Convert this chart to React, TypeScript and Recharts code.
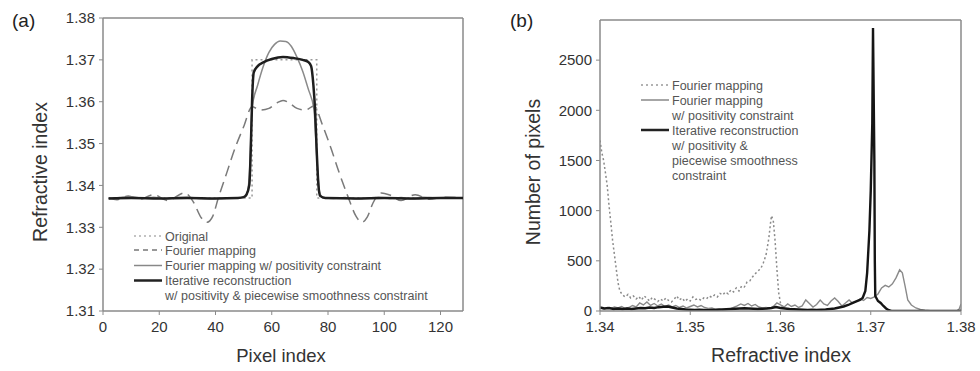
import { LineChart, Line, XAxis, YAxis, ReferenceLine } from "recharts";

// (a) refractive index profile along the pixel line
const pixelTicks = [0, 20, 40, 60, 80, 100, 120];
const indexTicks = [1.31, 1.32, 1.33, 1.34, 1.35, 1.36, 1.37, 1.38];

const originalProfile: [number, number][] = [
  [2, 1.337], [53, 1.337], [53, 1.37], [76, 1.37], [76, 1.337], [128, 1.337],
];

const fourierProfile: [number, number][] = [
  [2, 1.3370], [5, 1.3366], [9, 1.3375], [13, 1.3367], [18, 1.3378], [23, 1.3364],
  [29, 1.3382], [32, 1.3362], [35, 1.3322], [37, 1.3312], [39, 1.3326], [41, 1.3370],
  [44, 1.3430], [47, 1.3490], [50, 1.3540], [53, 1.3588], [56, 1.3580], [59, 1.3584],
  [62, 1.3598], [64, 1.3603], [66, 1.3598], [69, 1.3584], [72, 1.3580], [75, 1.3590],
  [78, 1.3545], [81, 1.3490], [84, 1.3430], [87, 1.3375], [90, 1.3326], [92, 1.3312],
  [94, 1.3325], [96, 1.3358], [99, 1.3382], [102, 1.3377], [106, 1.3364], [111, 1.3378],
  [116, 1.3367], [121, 1.3372], [128, 1.3370],
];

const positivityProfile: [number, number][] = [
  [2, 1.3368], [6, 1.3371], [10, 1.3373], [14, 1.3369], [18, 1.3372], [22, 1.3368],
  [26, 1.3371], [30, 1.3372], [34, 1.3369], [38, 1.3368], [42, 1.3369], [46, 1.3370],
  [50, 1.3371], [51, 1.3376], [52, 1.3420], [53, 1.3585], [55, 1.3640], [57, 1.3685],
  [59, 1.3718], [61, 1.3737], [63, 1.3745], [65, 1.3744], [67, 1.3732], [69, 1.3706],
  [71, 1.3673], [73, 1.3630], [75, 1.3582], [76, 1.3470], [77, 1.3385], [78, 1.3372],
  [82, 1.3369], [86, 1.3371], [90, 1.3368], [94, 1.3370], [98, 1.3372], [102, 1.3369],
  [106, 1.3371], [110, 1.3368], [114, 1.3372], [118, 1.3370], [122, 1.3371], [128, 1.3370],
];

const iterativeProfile: [number, number][] = [
  [2, 1.3369], [10, 1.3370], [20, 1.3369], [30, 1.3370], [40, 1.3369], [48, 1.3370],
  [50, 1.3372], [51, 1.3378], [52, 1.3400], [52.6, 1.3500], [53, 1.3600], [53.6, 1.3670],
  [55, 1.3685], [57, 1.3694], [60, 1.3702], [64, 1.3707], [68, 1.3704], [71, 1.3700],
  [73, 1.3695], [74, 1.3685], [74.8, 1.3640], [75.4, 1.3580], [76, 1.3480], [76.6, 1.3400],
  [77.2, 1.3375], [79, 1.3370], [90, 1.3369], [100, 1.3370], [110, 1.3369], [120, 1.3370],
  [128, 1.3370],
];

// (b) histogram of refractive index values
const histXTicks = [1.34, 1.35, 1.36, 1.37, 1.38];
const histYTicks = [0, 500, 1000, 1500, 2000, 2500];

const fourierHist: [number, number][] = [
  [1.3400, 1700], [1.3402, 1580], [1.3404, 1500], [1.3406, 1380], [1.3408, 1250],
  [1.3410, 1050], [1.3412, 880], [1.3414, 700], [1.3416, 560], [1.3418, 420],
  [1.3420, 280], [1.3422, 200], [1.3425, 160], [1.3428, 140], [1.3431, 165],
  [1.3434, 130], [1.3437, 150], [1.3440, 120], [1.3443, 145], [1.3446, 110],
  [1.3449, 150], [1.3452, 125], [1.3455, 100], [1.3458, 135], [1.3461, 115],
  [1.3464, 95], [1.3467, 120], [1.3470, 100], [1.3473, 130], [1.3476, 105],
  [1.3479, 90], [1.3482, 115], [1.3485, 150], [1.3488, 110], [1.3491, 130],
  [1.3494, 95], [1.3497, 120], [1.3500, 100], [1.3503, 140], [1.3506, 115],
  [1.3509, 125], [1.3512, 105], [1.3515, 130], [1.3518, 120], [1.3521, 150],
  [1.3524, 135], [1.3527, 160], [1.3530, 140], [1.3533, 175], [1.3536, 160],
  [1.3539, 190], [1.3542, 170], [1.3545, 210], [1.3548, 190], [1.3551, 230],
  [1.3554, 200], [1.3557, 250], [1.3560, 240], [1.3563, 290], [1.3566, 300],
  [1.3569, 340], [1.3572, 370], [1.3575, 400], [1.3578, 420], [1.3581, 480],
  [1.3584, 560], [1.3587, 720], [1.3589, 880], [1.3590, 950], [1.3592, 900],
  [1.3594, 700], [1.3596, 420], [1.3598, 180], [1.3600, 80], [1.3602, 40],
];

const positivityHist: [number, number][] = [
  [1.3400, 30], [1.3404, 20], [1.3408, 35], [1.3412, 25], [1.3416, 40], [1.3420, 30],
  [1.3424, 45], [1.3428, 25], [1.3432, 35], [1.3436, 55], [1.3440, 40], [1.3444, 80],
  [1.3448, 60], [1.3452, 90], [1.3456, 55], [1.3460, 75], [1.3464, 50], [1.3468, 70],
  [1.3472, 45], [1.3476, 60], [1.3480, 40], [1.3484, 55], [1.3488, 35], [1.3492, 50],
  [1.3496, 30], [1.3500, 45], [1.3504, 60], [1.3508, 40], [1.3512, 55], [1.3516, 35],
  [1.3520, 25], [1.3524, 30], [1.3528, 15], [1.3532, 20], [1.3536, 10], [1.3540, 15],
  [1.3544, 20], [1.3548, 35], [1.3552, 50], [1.3556, 70], [1.3560, 55], [1.3564, 75],
  [1.3568, 50], [1.3572, 65], [1.3576, 40], [1.3580, 30], [1.3584, 35], [1.3588, 25],
  [1.3592, 45], [1.3596, 80], [1.3600, 60], [1.3604, 40], [1.3608, 70], [1.3612, 45],
  [1.3616, 60], [1.3620, 35], [1.3624, 50], [1.3628, 110], [1.3632, 75], [1.3636, 40],
  [1.3640, 65], [1.3644, 110], [1.3648, 70], [1.3652, 55], [1.3656, 100], [1.3660, 130],
  [1.3664, 95], [1.3668, 50], [1.3672, 80], [1.3676, 110], [1.3680, 75], [1.3684, 95],
  [1.3688, 120], [1.3692, 105], [1.3696, 135], [1.3700, 125], [1.3704, 140], [1.3708, 170],
  [1.3712, 230], [1.3716, 255], [1.3720, 240], [1.3724, 270], [1.3728, 330], [1.3732, 410],
  [1.3735, 380], [1.3738, 250], [1.3741, 110], [1.3745, 60], [1.3750, 30], [1.3755, 15],
  [1.3760, 8], [1.3766, 3], [1.3770, 0], [1.3795, 0], [1.3798, 20], [1.3800, 70],
];

const iterativeHist: [number, number][] = [
  [1.3400, 35], [1.3405, 25], [1.3410, 30], [1.3415, 20], [1.3420, 25], [1.3425, 20],
  [1.3430, 25], [1.3435, 20], [1.3440, 25], [1.3445, 30], [1.3450, 28], [1.3455, 35],
  [1.3460, 30], [1.3465, 38], [1.3470, 42], [1.3475, 45], [1.3480, 35], [1.3485, 25],
  [1.3490, 20], [1.3495, 15], [1.3500, 12], [1.3505, 10], [1.3510, 12], [1.3515, 10],
  [1.3520, 8], [1.3525, 10], [1.3530, 12], [1.3535, 15], [1.3540, 18], [1.3545, 20],
  [1.3550, 22], [1.3555, 25], [1.3560, 28], [1.3565, 25], [1.3570, 22], [1.3575, 20],
  [1.3580, 22], [1.3585, 25], [1.3590, 30], [1.3595, 40], [1.3600, 30], [1.3605, 25],
  [1.3610, 20], [1.3615, 18], [1.3620, 15], [1.3625, 12], [1.3630, 10], [1.3635, 12],
  [1.3640, 10], [1.3645, 12], [1.3650, 15], [1.3655, 20], [1.3660, 25], [1.3665, 35],
  [1.3670, 45], [1.3675, 60], [1.3680, 80], [1.3684, 95], [1.3688, 110], [1.3691, 130],
  [1.3694, 200], [1.3696, 380], [1.36985, 800], [1.3700, 1200], [1.37017, 1870],
  [1.37025, 2820], [1.3704, 1500], [1.37045, 500], [1.3705, 150], [1.3708, 100],
  [1.3711, 80], [1.3714, 50], [1.3717, 25], [1.3720, 8], [1.3723, 0], [1.3800, 0],
];

const pts = (arr: [number, number][]) => arr.map(([x, y]) => ({ x, y }));

const FONT = "'Liberation Sans', Arial, sans-serif";
const FRAME = "#8a8a8a";
const tickStyle = { fontSize: 15, fill: "#333", fontFamily: FONT };

function LegendRow({ x, y, dash, color, width, text }: any) {
  return (
    <g>
      {color && (
        <line x1={x} x2={x + 28} y1={y} y2={y} stroke={color} strokeWidth={width} strokeDasharray={dash} />
      )}
      <text x={x + 31} y={y + 4.5} fontSize={12.5} fill="#555" fontFamily={FONT}>{text}</text>
    </g>
  );
}

export default function App() {
  return (
    <div style={{ position: "absolute", left: 0, top: 0, width: 980, height: 371, background: "#fff" }}>
      <div style={{ position: "absolute", left: 0, top: 0 }}>
        <LineChart width={490} height={371} margin={{ top: 18, right: 27, left: 0, bottom: 0 }}>
          <XAxis dataKey="x" type="number" domain={[0, 128]} ticks={pixelTicks} allowDataOverflow
            height={60} tick={tickStyle} tickSize={4} tickMargin={6}
            axisLine={{ stroke: FRAME, strokeWidth: 1.5 }} tickLine={{ stroke: FRAME }} />
          <YAxis type="number" domain={[1.31, 1.38]} ticks={indexTicks} allowDataOverflow
            width={103} tick={tickStyle} tickSize={4} tickMargin={4}
            tickFormatter={(v: number) => v.toFixed(2)}
            axisLine={{ stroke: FRAME, strokeWidth: 1.5 }} tickLine={{ stroke: FRAME }} />
          <ReferenceLine y={1.38} stroke={FRAME} strokeWidth={1.5} />
          <ReferenceLine x={128} stroke={FRAME} strokeWidth={1.5} />
          <Line data={pts(originalProfile)} dataKey="y" type="linear" stroke="#9a9a9a" strokeWidth={1.5}
            strokeDasharray="2 3" dot={false} isAnimationActive={false} />
          <Line data={pts(fourierProfile)} dataKey="y" type="monotone" stroke="#7a7a7a" strokeWidth={1.5}
            strokeDasharray="11 6" dot={false} isAnimationActive={false} />
          <Line data={pts(positivityProfile)} dataKey="y" type="monotone" stroke="#8a8a8a" strokeWidth={1.5}
            dot={false} isAnimationActive={false} />
          <Line data={pts(iterativeProfile)} dataKey="y" type="monotone" stroke="#1e1e1e" strokeWidth={2.5}
            dot={false} isAnimationActive={false} />
        </LineChart>
      </div>

      <div style={{ position: "absolute", left: 490, top: 0 }}>
        <LineChart width={490} height={371} margin={{ top: 20, right: 19, left: 0, bottom: 0 }}>
          <XAxis dataKey="x" type="number" domain={[1.34, 1.38]} ticks={histXTicks} allowDataOverflow
            height={60} tick={tickStyle} tickSize={4} tickMargin={6}
            tickFormatter={(v: number) => v.toFixed(2)}
            axisLine={{ stroke: FRAME, strokeWidth: 1.5 }} tickLine={{ stroke: FRAME }} />
          <YAxis type="number" domain={[0, 2900]} ticks={histYTicks} allowDataOverflow
            width={110} tick={tickStyle} tickSize={4} tickMargin={4}
            axisLine={{ stroke: FRAME, strokeWidth: 1.5 }} tickLine={{ stroke: FRAME }} />
          <ReferenceLine y={2900} stroke={FRAME} strokeWidth={1.5} />
          <ReferenceLine x={1.38} stroke={FRAME} strokeWidth={1.5} />
          <Line data={pts(fourierHist)} dataKey="y" type="linear" stroke="#8a8a8a" strokeWidth={1.5}
            strokeDasharray="2 2.5" dot={false} isAnimationActive={false} />
          <Line data={pts(positivityHist)} dataKey="y" type="linear" stroke="#8a8a8a" strokeWidth={1.4}
            dot={false} isAnimationActive={false} />
          <Line data={pts(iterativeHist)} dataKey="y" type="linear" stroke="#151515" strokeWidth={2.4}
            dot={false} isAnimationActive={false} />
        </LineChart>
      </div>

      <svg width={980} height={371} style={{ position: "absolute", left: 0, top: 0, pointerEvents: "none" }}>
        <text x={12} y={27} fontSize={19} fill="#222" fontFamily={FONT}>(a)</text>
        <text x={510} y={27} fontSize={19} fill="#222" fontFamily={FONT}>(b)</text>
        <text transform="translate(47,172) rotate(-90)" textAnchor="middle" fontSize={19.5} fill="#333" fontFamily={FONT}>Refractive index</text>
        <text x={281} y={362} textAnchor="middle" fontSize={18.5} fill="#333" fontFamily={FONT}>Pixel index</text>
        <text transform="translate(540,172) rotate(-90)" textAnchor="middle" fontSize={19.5} fill="#333" fontFamily={FONT}>Number of pixels</text>
        <text x={781} y={362} textAnchor="middle" fontSize={19.5} fill="#333" fontFamily={FONT}>Refractive index</text>

        <LegendRow x={134} y={236} color="#b0b0b0" width={1.5} dash="2 3" text="Original" />
        <LegendRow x={134} y={250} color="#777" width={1.5} dash="5 4" text="Fourier mapping" />
        <LegendRow x={134} y={265.5} color="#888" width={1.5} text="Fourier mapping w/ positivity constraint" />
        <LegendRow x={134} y={280.5} color="#222" width={2.5} text="Iterative reconstruction" />
        <LegendRow x={134} y={295} text="w/ positivity & piecewise smoothness constraint" />

        <LegendRow x={641} y={85} color="#999" width={1.5} dash="2 3" text="Fourier mapping" />
        <LegendRow x={641} y={100} color="#888" width={1.5} text="Fourier mapping" />
        <LegendRow x={641} y={115} text="w/ positivity constraint" />
        <LegendRow x={641} y={130} color="#222" width={2.5} text="Iterative reconstruction" />
        <LegendRow x={641} y={145} text="w/ positivity &" />
        <LegendRow x={641} y={160} text="piecewise smoothness" />
        <LegendRow x={641} y={175} text="constraint" />
      </svg>
    </div>
  );
}
